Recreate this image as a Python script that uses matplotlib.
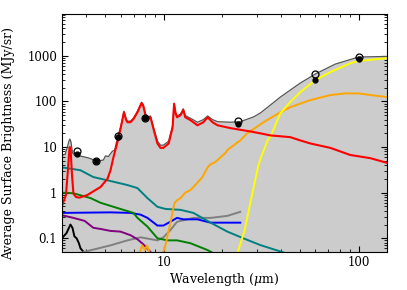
import numpy as np
import matplotlib
matplotlib.use('Agg')
import matplotlib.pyplot as plt
from matplotlib import ticker

plt.rcParams['font.family'] = 'DejaVu Serif'
plt.rcParams['mathtext.fontset'] = 'dejavuserif'

# ------------------- data (wavelength in micron, MJy/sr) -------------------
total_wl = [3.0, 3.12, 3.2, 3.27, 3.3, 3.34, 3.4, 3.5, 3.65, 4.1, 4.55, 4.9, 5.02, 5.2,
            5.45, 5.6, 5.79, 6.0, 6.14, 6.25, 6.4, 6.51, 6.75, 6.99, 7.33, 7.7, 7.85,
            8.06, 8.25, 8.55, 8.86, 9.28, 9.62, 9.96, 10.6, 11.1, 11.3, 11.5, 11.7,
            12.2, 12.6, 12.9, 13.7, 14.9, 15.97, 16.8, 17.8, 18.9, 22.0, 24.7, 28.8,
            31.3, 39.7, 50.2, 60.0, 76.0, 100.0, 140.0]
total = [6.5, 7.0, 10, 14, 15, 13, 7.5, 6.5, 6.5, 5.8, 4.9, 5.2, 6.4, 6.2,
         8.1, 8.6, 16, 27, 42, 61, 42, 37, 37, 43, 61, 96, 84,
         53, 45, 48, 27, 13.5, 11, 11, 13.5, 29, 92, 58, 48,
         53, 69, 49, 43, 35, 40, 48, 40, 36, 35, 36, 45.5,
         55.6, 125, 253, 400, 660, 942, 970]

red_wl = [3.0, 3.15, 3.22, 3.28, 3.3, 3.33, 3.38, 3.44, 3.55, 3.7, 4.06, 4.46, 4.74,
          4.91, 5.14, 5.33, 5.52, 5.79, 6.0, 6.14, 6.25, 6.4, 6.51, 6.75, 6.99, 7.33,
          7.7, 7.85, 8.06, 8.25, 8.55, 8.86, 9.28, 9.62, 9.96, 10.6, 11.1, 11.3, 11.5,
          11.7, 12.2, 12.6, 12.9, 13.7, 14.9, 15.97, 16.8, 17.8, 18.9, 22.0, 27.8,
          31.3, 35.3, 44.6, 50.2, 56.5, 71.6, 90.7, 115, 140]
red = [0.5, 0.9, 3.0, 9.0, 10.0, 8.5, 2.5, 0.95, 0.8, 0.78, 0.89, 1.14, 1.33,
       1.6, 2.0, 3.1, 6.0, 13, 25, 40, 58, 40, 35, 35, 41, 58,
       92, 80, 50, 42, 45, 25, 12, 9.6, 9.6, 12, 27, 88, 55,
       45, 50, 65, 45, 39, 30, 35, 45, 35, 30, 26, 22,
       20, 18, 16.5, 14, 12, 9.6, 6.7, 5.7, 4.5]

yellow_wl = [24.0, 26.0, 27.8, 30.6, 32.0, 34.4, 35.3, 39.7, 44.6, 50.2, 60.0, 71.6, 90.7, 100, 140]
yellow = [0.05, 0.15, 0.59, 4.0, 7.0, 15, 17, 55, 97, 160, 295, 440, 690, 770, 890]

orange_wl = [7.2, 7.55, 7.75, 8.0, 8.2, 8.5, 9.0, 9.6, 10.2, 10.8, 11.35, 11.7, 12.2,
             12.9, 13.7, 14.2, 15.8, 16.8, 17.4, 18.4, 20.7, 21.2, 24.7, 26.8, 32.5,
             39.7, 44.6, 56.5, 71.6, 85, 100, 115, 140]
orange = [0.03, 0.05, 0.07, 0.055, 0.07, 0.045, 0.02, 0.03, 0.07, 0.21, 0.59, 0.68, 0.76,
          1.0, 1.14, 1.33, 2.2, 3.6, 4.2, 4.7, 7.4, 8.6, 14, 20, 35,
          58, 75, 107, 138, 150, 150, 138, 125]

teal_wl = [3.0, 3.74, 4.35, 5.33, 6.51, 7.33, 8.25, 9.28, 10.2, 12.2, 14.2, 17.4, 21.2, 25.6, 31.3, 40.5, 50.0]
teal = [3.6, 3.1, 2.2, 1.8, 1.47, 1.26, 0.76, 0.49, 0.44, 0.42, 0.36, 0.22, 0.14, 0.10, 0.071, 0.05, 0.035]

green_wl = [3.0, 3.44, 4.21, 4.74, 5.79, 6.99, 7.33, 8.25, 9.28, 10.45, 11.7, 13.7, 16.8, 18.4]
green = [1.0, 0.97, 0.76, 0.6, 0.46, 0.36, 0.28, 0.18, 0.10, 0.09, 0.09, 0.078, 0.055, 0.045]

blue_wl = [3.0, 5.33, 6.75, 7.6, 8.25, 9.28, 9.96, 10.8, 11.7, 12.6, 14.9, 17.4, 24.7]
blue = [0.36, 0.37, 0.36, 0.33, 0.28, 0.19, 0.19, 0.23, 0.28, 0.26, 0.26, 0.22, 0.22]

purple_wl = [3.0, 3.44, 3.93, 4.35, 4.74, 5.33, 6.0, 6.75, 7.33, 7.85, 8.55, 9.07]
purple = [0.32, 0.28, 0.24, 0.17, 0.16, 0.145, 0.14, 0.117, 0.095, 0.074, 0.05, 0.04]

black_wl = [3.0, 3.17, 3.32, 3.4, 3.48, 3.57, 3.66, 3.74, 3.88, 4.0]
black = [0.1, 0.13, 0.2, 0.17, 0.11, 0.1, 0.08, 0.06, 0.05, 0.04]

gray_wl = [3.6, 3.88, 5.33, 6.51, 7.6, 9.28, 9.96, 10.8, 11.7, 14.2, 17.4, 21.2, 24.7]
gray = [0.04, 0.05, 0.07, 0.09, 0.105, 0.09, 0.105, 0.15, 0.23, 0.28, 0.28, 0.31, 0.38]

band_wl = [3.6, 4.5, 5.8, 8.0, 24.0, 60.0, 100.0]
observed = [8.2, 5.0, 17.5, 44, 37, 395, 940]
model = [7.0, 5.0, 17, 43, 32, 295, 860]

# ------------------- plot -------------------
fig = plt.figure(figsize=(4.07, 2.9), dpi=100)
ax = fig.add_axes([0.152, 0.131, 0.799, 0.821])

ax.fill_between(total_wl, total, 1e-3, color='#cccccc', lw=0)
ax.plot(total_wl, total, color='#555555', lw=0.9)

lw = 1.4
ax.plot(black_wl, black, color='black', lw=lw)
ax.plot(gray_wl, gray, color='gray', lw=lw)
ax.plot(purple_wl, purple, color='purple', lw=lw)
ax.plot(blue_wl, blue, color='blue', lw=lw)
ax.plot(green_wl, green, color='green', lw=lw)
ax.plot(teal_wl, teal, color='teal', lw=lw)
ax.plot(orange_wl, orange, color='orange', lw=lw)
ax.plot(yellow_wl, yellow, color='yellow', lw=lw)
ax.plot(red_wl, red, color='red', lw=1.5)

ax.plot(band_wl, observed, 'o', mfc='none', mec='black', ms=5, mew=0.9, ls='none')
ax.plot(band_wl, model, 'o', color='black', ms=3.5, ls='none')

ax.set_xscale('log')
ax.set_yscale('log')
ax.set_xlim(3, 140)
ax.set_ylim(0.05, 8300)

fmt = ticker.FuncFormatter(lambda v, p: '%g' % v)
ax.xaxis.set_major_formatter(fmt)
ax.yaxis.set_major_formatter(fmt)
ax.xaxis.set_minor_formatter(ticker.NullFormatter())
ax.tick_params(which='both', direction='in', top=True, right=True, labelsize=8.5)
ax.tick_params(which='major', length=4)
ax.tick_params(which='minor', length=2)
ax.tick_params(axis='x', pad=3)

ax.set_xlabel(r'Wavelength ($\mu$m)', fontsize=9, labelpad=1)
ax.set_ylabel('Average Surface Brightness (MJy/sr)', fontsize=9)
ax.yaxis.set_label_coords(-0.145, 0.455)

fig.savefig('out.png', dpi=100)
